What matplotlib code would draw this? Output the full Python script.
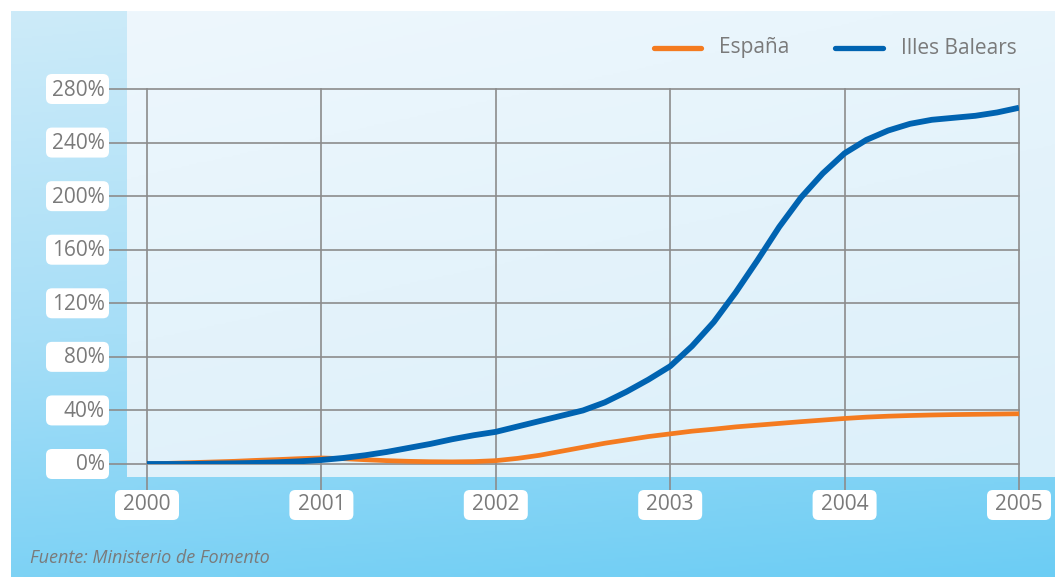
import numpy as np
import matplotlib
matplotlib.use("Agg")
from matplotlib import pyplot as plt
from matplotlib.patches import FancyBboxPatch
from matplotlib.colors import LinearSegmentedColormap

# data, every eighth of a year from 2000 to 2005
years = np.arange(2000, 2005.001, 0.125)
espana = [0, 0.5, 1, 1.5, 2, 2.7, 3.3, 4,
          4.5, 4, 3.2, 2.5, 2, 1.7, 1.6, 1.8,
          2.5, 4.2, 6.5, 9.5, 12.5, 15.5, 18, 20.5,
          22.5, 24.5, 26, 27.7, 29, 30.3, 31.6, 32.8,
          34, 35, 35.7, 36.2, 36.6, 36.9, 37.1, 37.3,
          37.5]
baleares = [0, 0, 0, 0.3, 0.5, 0.8, 1.3, 2,
            3, 4.5, 6.5, 9, 12, 15, 18.5, 21.5,
            24, 28, 32, 36, 40, 46, 54, 63,
            73, 88, 106, 128, 152, 177, 199, 217,
            232, 242, 249, 254, 257, 258.5, 260, 262.5,
            266]
xticks = [2000, 2001, 2002, 2003, 2004, 2005]
yticks = [0, 40, 80, 120, 160, 200, 240, 280]

W, H = 1055, 577
grey = '#7a7a7a'
grid = '#8c8c8c'
orange = '#f47b20'
blue = '#0063b1'
plt.rcParams['font.family'] = ['Open Sans', 'DejaVu Sans']

fig = plt.figure(figsize=(W / 100, H / 100), dpi=100)

# background, in pixel coordinates
bg = fig.add_axes([0, 0, 1, 1])
bg.set_xlim(0, W)
bg.set_ylim(H, 0)
bg.axis('off')

back = LinearSegmentedColormap.from_list('back', ['#cdebf9', '#a6def7', '#6ccdf4'])
grad = np.linspace(0, 1, 256).reshape(-1, 1)
gx = np.linspace(0, 1, 256).reshape(1, -1)
bg.imshow(back(grad * 0.85 + gx * 0.15), extent=(11, W, H, 11), aspect='auto', zorder=0)
panel = LinearSegmentedColormap.from_list('panel', ['#eef7fd', '#e4f3fb', '#dcf0fa'])
bg.imshow(panel(grad * 0.7 + gx * 0.3), extent=(127, W, 477, 11), aspect='auto', zorder=1)

# main axes
x0, x1, y0, y1 = 147, 1019, 464, 89
ax = fig.add_axes([x0 / W, (H - y0) / H, (x1 - x0) / W, (y0 - y1) / H])
ax.set_xlim(2000, 2005)
ax.set_ylim(0, 280)
ax.patch.set_alpha(0)
for s in ax.spines.values():
    s.set_visible(False)
ax.set_xticks([])
ax.set_yticks([])


def to_px(x, y):
    d = ax.transData.transform((x, y))
    return d[0], H - d[1]


# grid lines and boxed tick labels
for v in yticks:
    px, py = to_px(2000, v)
    ex, _ = to_px(2005, v)
    bg.plot([109, ex], [py, py], color=grid, lw=1.2, zorder=2)
    bg.add_patch(FancyBboxPatch((46, py - 15), 63, 30, boxstyle='round,pad=0,rounding_size=6',
                                fc='white', ec='none', zorder=3))
    bg.text(105, py + 1, '%d%%' % v, ha='right', va='center', fontsize=15, color=grey, zorder=4)

for v in xticks:
    px, py = to_px(v, 280)
    bg.plot([px, px], [py, 490], color=grid, lw=1.2, zorder=2)
    bg.add_patch(FancyBboxPatch((px - 32, 490), 64, 30, boxstyle='round,pad=0,rounding_size=6',
                                fc='white', ec='none', zorder=3))
    bg.text(px, 505, str(v), ha='center', va='center', fontsize=15, color=grey, zorder=4)

ax.plot(years, espana, color=orange, lw=3.4, solid_capstyle='butt', solid_joinstyle='round', zorder=3)
ax.plot(years, baleares, color=blue, lw=4.2, solid_capstyle='butt', solid_joinstyle='round', zorder=4)

# legend
bg.plot([654, 701], [48, 48], color=orange, lw=3.8, solid_capstyle='round', zorder=5)
bg.text(719, 48, 'España', ha='left', va='center', fontsize=15, color=grey, zorder=5)
bg.plot([835, 883], [48, 48], color=blue, lw=3.8, solid_capstyle='round', zorder=5)
bg.text(901, 48, 'Illes Balears', ha='left', va='center', fontsize=15, color=grey, zorder=5)

bg.text(30, 558, 'Fuente: Ministerio de Fomento', ha='left', va='center', fontsize=13,
        style='italic', color=grey, zorder=5)

fig.savefig('out.png', dpi=100)
